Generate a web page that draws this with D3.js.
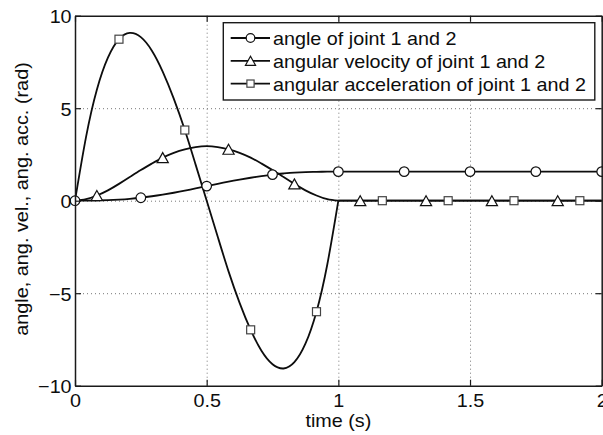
<!DOCTYPE html>
<html>
<head>
<meta charset="utf-8">
<script src="https://cdn.jsdelivr.net/npm/d3@7"></script>
<style>
  html, body { margin: 0; padding: 0; background: #fff; }
  svg { display: block; }
  text { font-family: "Liberation Sans", Arial, Helvetica, sans-serif; fill: #0d0d0d; }
</style>
</head>
<body>
<svg id="chart" width="603" height="435"></svg>
<script>
// Joint trajectory (quintic point-to-point move over 1 s, then hold).
// Sample times (s): motion phase every 1/24 s, hold phase every 1/12 s.
const time = [0, 0.042, 0.083, 0.125, 0.167, 0.208, 0.25, 0.292, 0.333, 0.375, 0.417, 0.458,
              0.5, 0.542, 0.583, 0.625, 0.667, 0.708, 0.75, 0.792, 0.833, 0.875, 0.917, 0.958,
              1.0, 1.083, 1.167, 1.25, 1.333, 1.417, 1.5, 1.583, 1.667, 1.75, 1.833, 1.917, 2.0];

// angle of joint 1 and 2 (rad)
const angle = [0, 0.00, 0.01, 0.03, 0.06, 0.10, 0.16, 0.24, 0.33, 0.43, 0.54, 0.66,
               0.79, 0.91, 1.03, 1.14, 1.24, 1.33, 1.41, 1.47, 1.52, 1.55, 1.56, 1.57,
               1.57, 1.57, 1.57, 1.57, 1.57, 1.57, 1.57, 1.57, 1.57, 1.57, 1.57, 1.57, 1.57];

// angular velocity of joint 1 and 2 (rad/s)
const velocity = [0, 0.08, 0.28, 0.56, 0.91, 1.28, 1.66, 2.01, 2.33, 2.59, 2.78, 2.90,
                  2.95, 2.90, 2.78, 2.59, 2.33, 2.01, 1.66, 1.28, 0.91, 0.56, 0.28, 0.08,
                  0, 0, 0, 0, 0, 0, 0, 0, 0, 0, 0, 0, 0];

// angular acceleration of joint 1 and 2 (rad/s^2)
const acceleration = [0, 3.45, 6.00, 7.73, 8.73, 9.07, 8.84, 8.11, 6.98, 5.52, 3.82, 1.95,
                      0, -1.95, -3.82, -5.52, -6.98, -8.11, -8.84, -9.07, -8.73, -7.73, -6.00, -3.45,
                      0, 0, 0, 0, 0, 0, 0, 0, 0, 0, 0, 0, 0];

// Times at which each series carries a marker
const angleMarkT = [0, 0.25, 0.5, 0.75, 1.0, 1.25, 1.5, 1.75, 2.0];
const velocityMarkT = [0.083, 0.333, 0.583, 0.833, 1.083, 1.333, 1.583, 1.833];
const accelerationMarkT = [0.167, 0.417, 0.667, 0.917, 1.167, 1.417, 1.667, 1.917];

const xTicks = [0, 0.5, 1, 1.5, 2];
const yTicks = [-10, -5, 0, 5, 10];

const seriesNames = ["angle of joint 1 and 2",
                     "angular velocity of joint 1 and 2",
                     "angular acceleration of joint 1 and 2"];

const xTitle = "time (s)";
const yTitle = "angle, ang. vel., ang. acc. (rad)";

// ---------------------------------------------------------------
const svg = d3.select("#chart");
const plotL = 75, plotR = 601.7, plotT = 15.7, plotB = 385.7;
const FS = 19;          // font size
const SX = 1.04;        // slight horizontal widening of glyphs

const x = d3.scaleLinear().domain([0, 2]).range([plotL, plotR]);
const y = d3.scaleLinear().domain([-10, 10]).range([plotB, plotT]);
const fmt = d3.format("");

// Dotted grid
const grid = svg.append("g").attr("class", "grid");
grid.append("g")
  .attr("transform", `translate(0,${plotB})`)
  .call(d3.axisBottom(x).tickValues(xTicks.slice(1, -1)).tickSize(-(plotB - plotT)).tickFormat(""))
  .call(g => g.select(".domain").remove());
grid.append("g")
  .attr("transform", `translate(${plotL},0)`)
  .call(d3.axisLeft(y).tickValues(yTicks.slice(1, -1)).tickSize(-(plotR - plotL)).tickFormat(""))
  .call(g => g.select(".domain").remove());
grid.selectAll("line")
  .attr("stroke", "#777").attr("stroke-width", 1).attr("stroke-dasharray", "1,3");

// Curves: motion phase and hold phase drawn as separate smooth segments
const rows = time.map((t, i) => ({ t, a: angle[i], v: velocity[i], c: acceleration[i] }));
const motion = rows.filter(d => d.t <= 1.0);
const hold = rows.filter(d => d.t >= 1.0);
const keys = ["a", "v", "c"];
const lines = svg.append("g").attr("class", "curves");
keys.forEach(k => {
  [motion, hold].forEach(seg => {
    lines.append("path")
      .datum(seg)
      .attr("fill", "none")
      .attr("stroke", "#0d0d0d")
      .attr("stroke-width", 1.8)
      .attr("stroke-linejoin", "round")
      .attr("d", d3.line().x(d => x(d.t)).y(d => y(d[k])).curve(d3.curveNatural));
  });
});

// Marker shapes
function drawMarker(g, kind, cx, cy, big) {
  const s = big ? 1 : 0.9;
  if (kind === "circle") {
    g.append("circle").attr("cx", cx).attr("cy", cy).attr("r", 4.8 * s)
      .attr("fill", "#fff").attr("stroke", "#111").attr("stroke-width", 1.2);
  } else if (kind === "triangle") {
    const w = 5.6 * s, h = 5 * s;
    g.append("path")
      .attr("d", `M${cx},${cy - h}L${cx + w},${cy + h}L${cx - w},${cy + h}Z`)
      .attr("fill", "#fff").attr("stroke", "#111").attr("stroke-width", 1.2);
  } else {
    const a = 4 * s;
    g.append("rect").attr("x", cx - a).attr("y", cy - a).attr("width", 2 * a).attr("height", 2 * a)
      .attr("fill", "#fff").attr("stroke", "#444").attr("stroke-width", 1.2);
  }
}

const marks = svg.append("g").attr("class", "markers");
const markerSpec = [
  { key: "a", kind: "circle", times: angleMarkT },
  { key: "v", kind: "triangle", times: velocityMarkT },
  { key: "c", kind: "square", times: accelerationMarkT }
];
markerSpec.forEach(spec => {
  spec.times.forEach(t => {
    const row = rows.reduce((best, d) => Math.abs(d.t - t) < Math.abs(best.t - t) ? d : best, rows[0]);
    drawMarker(marks, spec.kind, x(row.t), y(row[spec.key]), true);
  });
});

// Axes (ticks point inward, box on all four sides)
const axisColor = "#1a1a1a";
const ax = svg.append("g").attr("class", "axes");
const bottomAxis = ax.append("g").attr("transform", `translate(0,${plotB})`)
  .call(d3.axisBottom(x).tickValues(xTicks).tickSizeInner(-6).tickSizeOuter(0).tickFormat(fmt));
const leftAxis = ax.append("g").attr("transform", `translate(${plotL},0)`)
  .call(d3.axisLeft(y).tickValues(yTicks).tickSizeInner(-6).tickSizeOuter(0).tickFormat(fmt));
ax.append("g").attr("transform", `translate(0,${plotT})`)
  .call(d3.axisTop(x).tickValues(xTicks).tickSizeInner(-6).tickSizeOuter(0).tickFormat(""));
ax.append("g").attr("transform", `translate(${plotR},0)`)
  .call(d3.axisRight(y).tickValues(yTicks).tickSizeInner(-6).tickSizeOuter(0).tickFormat(""));
ax.selectAll(".domain").attr("stroke", axisColor).attr("stroke-width", 1.5);
ax.selectAll(".tick line").attr("stroke", axisColor).attr("stroke-width", 1.2);

bottomAxis.selectAll("text")
  .attr("y", 21.8).attr("dy", null)
  .attr("transform", `scale(${SX},1)`)
  .style("font-size", FS + "px").attr("fill", "#0d0d0d");
leftAxis.selectAll("text")
  .attr("x", -3.4 / SX).attr("dy", null).attr("y", 6.8)
  .attr("transform", `scale(${SX},1)`)
  .style("font-size", FS + "px").attr("fill", "#0d0d0d");
ax.attr("font-family", null);
ax.selectAll("g").attr("font-family", null).attr("font-size", null);

// Axis titles
svg.append("text")
  .attr("transform", `translate(${(plotL + plotR) / 2},427) scale(${SX},1)`)
  .attr("text-anchor", "middle")
  .style("font-size", FS + "px")
  .text(xTitle);
svg.append("text")
  .attr("transform", `translate(28,199) rotate(-90) scale(1.045,1)`)
  .attr("text-anchor", "middle")
  .style("font-size", FS + "px")
  .text(yTitle);

// Legend
const legend = svg.append("g").attr("class", "legend");
legend.append("rect")
  .attr("x", 223.3).attr("y", 22.7).attr("width", 371.5).attr("height", 77.3)
  .attr("fill", "#fff").attr("stroke", "#1a1a1a").attr("stroke-width", 1.4);
const kinds = ["circle", "triangle", "square"];
seriesNames.forEach((name, i) => {
  const base = 45 + i * 22.8;
  const my = base - 7;
  legend.append("line")
    .attr("x1", 230.7).attr("x2", 270).attr("y1", my).attr("y2", my)
    .attr("stroke", "#0d0d0d").attr("stroke-width", 1.8);
  drawMarker(legend, kinds[i], 250.5, my, false);
  legend.append("text")
    .attr("transform", `translate(273,${base}) scale(${SX},1)`)
    .style("font-size", FS + "px")
    .text(name);
});
</script>
</body>
</html>
